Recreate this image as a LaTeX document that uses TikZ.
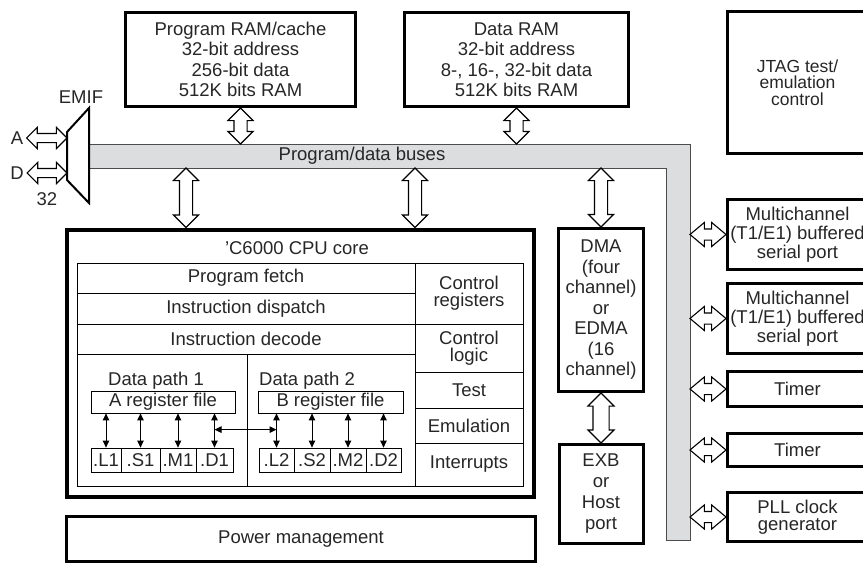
\documentclass[tikz,border=0pt]{standalone}
\usepackage{fontspec}
\setmainfont{Liberation Sans}
\usetikzlibrary{calc,arrows.meta,shapes.arrows}
\definecolor{BusGray}{HTML}{DCDDDF}
\definecolor{InkGray}{HTML}{262626}

\begin{document}
\begin{tikzpicture}[
    x=1pt, y=1pt,
    every node/.style={font=\fontsize{18.5}{20.5}\selectfont, text=InkGray},
    >={Triangle[length=7pt,width=6.5pt]},
    block/.style  = {draw, line width=3pt, align=center, inner sep=0pt},
    cell/.style   = {draw, line width=0.8pt, align=center, inner sep=0pt},
    unit/.style   = {draw, line width=0.8pt, inner sep=0pt, minimum height=24},
    tight/.style  = {font=\fontsize{18.5}{17}\selectfont},
    hollow/.style = {double arrow, draw, fill=white, line width=1.1pt, inner xsep=0pt, inner ysep=6pt,
                     double arrow head extend=6, double arrow tip angle=90},
  ]
% page size, right-hand boxes run off the edge
\useasboundingbox (0,0) rectangle (863,-565);
\clip (0,0) rectangle (863,-565);

% hollow arrow between two points: name, options, from, to
\def\busarrow#1#2#3#4{
     \path let \p1 = ($(#4)-(#3)$), \n1 = {veclen(\x1,\y1)} in
       (#3) -- (#4) node[midway, sloped, hollow, minimum height=\n1, #2] (#1) {};
    }

% bus
\coordinate (busN) at (0,-144);
\coordinate (busS) at (0,-168);
\coordinate (busE) at (690,0);
\coordinate (emifW) at (67,0);
\fill[BusGray] (89,-144) -- (690,-144) -- (690,-540) -- (666,-540) -- (666,-168) -- (89,-168) -- cycle;
\draw[line width=0.8pt, black!70] (89,-144) -- (690,-144) -- (690,-540) -- (666,-540) -- (666,-168) -- (89,-168);
\node (buslbl) at (362,-156) {Program/data buses};

% EMIF
\draw[line width=2pt, fill=white] (67,-132) -- (89,-108) -- (89,-203) -- (67,-180) -- cycle;
\node (emiflbl) at (81,-97) {EMIF};
\node (lblA) at (17,-138) {A};
\node (lblD) at (17,-173) {D};
\node (lbl32) at (47,-199) {32};

% memories and JTAG
\node[block, minimum width=230, minimum height=94] (pram) at (240.5,-59.5)
     {Program RAM/cache\\32-bit address\\256-bit data\\512K bits RAM};
\node[block, minimum width=224, minimum height=94] (dram) at (516.5,-59.5)
     {Data RAM\\32-bit address\\8-, 16-, 32-bit data\\512K bits RAM};
\node[block, minimum width=140, minimum height=142, font=\fontsize{17.5}{16.5}\selectfont] (jtag) at (797.5,-82.5)
     {JTAG test/\\emulation\\control};

% peripherals
\node[block, minimum width=140, minimum height=70, font=\fontsize{18.5}{19}\selectfont] (mcbspA) at (797.5,-234.5)
     {Multichannel\\(T1/E1) buffered\\serial port};
\node[block, minimum width=140, minimum height=70, font=\fontsize{18.5}{19}\selectfont] (mcbspB) at (797.5,-318.5)
     {Multichannel\\(T1/E1) buffered\\serial port};
\node[block, minimum width=140, minimum height=35] (timerA) at (797.5,-389) {Timer};
\node[block, minimum width=140, minimum height=33] (timerB) at (797.5,-450) {Timer};
\node[block, minimum width=140, minimum height=49, tight] (pll) at (797.5,-517) {PLL clock\\generator};

\node[block, minimum width=85, minimum height=163] (dma) at (601,-310)
     {DMA\\(four\\channel)\\or\\EDMA\\(16\\channel)};
\node[block, minimum width=84, minimum height=99, font=\fontsize{18.5}{21}\selectfont] (exb) at (601,-494)
     {EXB\\or\\Host\\port};

% CPU core
\node[block, line width=4pt, minimum width=467, minimum height=267] (cpu) at (300,-363) {};
\node (cputitle) at (297,-248) {'C6000 CPU core};
\node[block, minimum width=469, minimum height=45] (power) at (301,-539) {Power management};

\node[cell, minimum width=338, minimum height=30] (fetch) at (246,-278) {Program fetch};
\node[cell, minimum width=338, minimum height=31] (dispatch) at (246,-308.5) {Instruction dispatch};
\node[cell, minimum width=338, minimum height=30] (decode) at (246,-339) {Instruction decode};
\node[cell, minimum width=170, minimum height=132] (pathA) at (162,-420) {};
\node[cell, minimum width=168, minimum height=132] (pathB) at (331,-420) {};
\node[cell, tight, minimum width=108, minimum height=61] (ctrlreg) at (469,-293.5) {Control\\registers};
\node[cell, tight, minimum width=108, minimum height=48] (ctrllogic) at (469,-348) {Control\\logic};
\node[cell, minimum width=108, minimum height=36] (test) at (469,-390) {Test};
\node[cell, minimum width=108, minimum height=35] (emul) at (469,-425.5) {Emulation};
\node[cell, minimum width=108, minimum height=43] (intr) at (469,-464.5) {Interrupts};

\node (pathAlbl) at (156,-381) {Data path 1};
\node (pathBlbl) at (307,-381) {Data path 2};
\node[cell, minimum width=144, minimum height=22] (areg) at (163,-402) {A register file};
\node[cell, minimum width=145, minimum height=22] (breg) at (330.5,-402) {B register file};

\node[unit, minimum width=30] (L1) at (106,-460) {.L1};
\node[unit, minimum width=39] (S1) at (140.5,-460) {.S1};
\node[unit, minimum width=36] (M1) at (178,-460) {.M1};
\node[unit, minimum width=37] (D1) at (214.5,-460) {.D1};
\node[unit, minimum width=35] (L2) at (276.5,-460) {.L2};
\node[unit, minimum width=36] (S2) at (312,-460) {.S2};
\node[unit, minimum width=36] (M2) at (348,-460) {.M2};
\node[unit, minimum width=35] (D2) at (383.5,-460) {.D2};

\foreach \u in {L1,S1,M1,D1}
    \draw[<->, line width=1pt] (\u.north) -- (\u.north |- areg.south);
\foreach \u in {L2,S2,M2,D2}
    \draw[<->, line width=1pt] (\u.north) -- (\u.north |- breg.south);
\draw[<->, line width=1pt] ([yshift=18]D1.north) -- ([yshift=18]L2.north);

% hollow bus arrows
\busarrow{pramlink}{}{pram.south}{pram.south |- busN}
\busarrow{dramlink}{}{dram.south}{dram.south |- busN}
\coordinate (tapA) at (186,-168);
\coordinate (tapB) at (415,-168);
\busarrow{cpulinkA}{}{tapA}{tapA |- cpu.north}
\busarrow{cpulinkB}{}{tapB}{tapB |- cpu.north}
\busarrow{dmalink}{}{dma.north |- busS}{dma.north}
\busarrow{exblink}{inner ysep=7.5pt, double arrow head extend=5}{dma.south}{exb.north}

\foreach \per in {mcbspA,mcbspB,timerA,timerB,pll}
    {\busarrow{\per link}{inner ysep=5pt, double arrow head extend=6.5, double arrow tip angle=80}{busE |- \per.west}{\per.west}}

\busarrow{alink}{inner ysep=4pt, double arrow head extend=6}{lblA.east}{emifW |- lblA.east}
\busarrow{dlink}{inner ysep=4pt, double arrow head extend=6}{lblD.east}{emifW |- lblD.east}

\end{tikzpicture}
\end{document}
